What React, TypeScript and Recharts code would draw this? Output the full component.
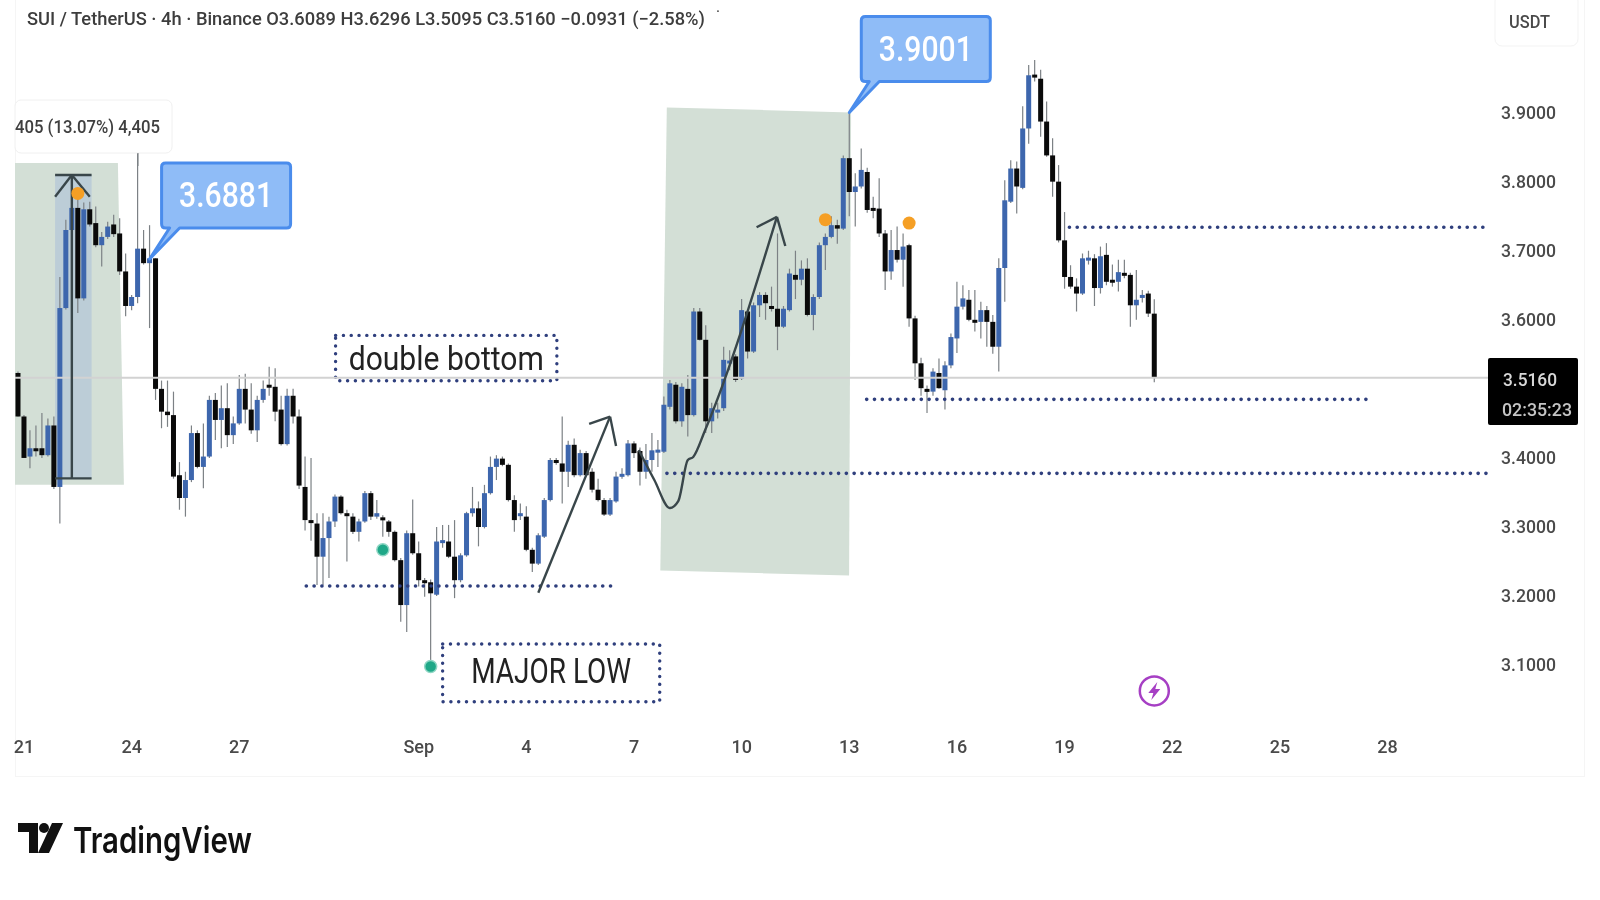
import React from "react";
import { ComposedChart, Bar, Line, XAxis, YAxis, ReferenceArea, ReferenceLine, ReferenceDot } from "recharts";

const firstBar = -1;
const opens = [
  3.523,3.46,3.402,3.414,3.414,3.404,3.447,3.358,3.617,3.73,
  3.762,3.631,3.76,3.74,3.708,3.72,3.738,3.725,3.67,3.62,
  3.633,3.703,3.682,3.689,3.50,3.467,3.462,3.375,3.342,3.368,
  3.436,3.387,3.402,3.484,3.455,3.472,3.433,3.45,3.50,3.47,
  3.44,3.484,3.506,3.503,3.47,3.42,3.49,3.46,3.358,3.31,
  3.305,3.257,3.284,3.308,3.344,3.32,3.315,3.293,3.308,3.349,
  3.315,3.314,3.308,3.293,3.252,3.187,3.291,3.262,3.223,3.22,
  3.202,3.279,3.279,3.257,3.223,3.259,3.32,3.327,3.30,3.349,
  3.387,3.399,3.39,3.339,3.318,3.315,3.267,3.247,3.286,3.339,
  3.397,3.392,3.38,3.419,3.375,3.407,3.38,3.354,3.339,3.318,
  3.337,3.375,3.375,3.421,3.41,3.38,3.397,3.411,3.409,3.474,
  3.506,3.453,3.50,3.462,3.612,3.571,3.453,3.468,3.472,3.54,
  3.547,3.515,3.612,3.554,3.621,3.636,3.62,3.616,3.59,3.614,
  3.665,3.658,3.674,3.607,3.633,3.708,3.72,3.737,3.732,3.834,
  3.785,3.793,3.814,3.762,3.761,3.725,3.67,3.701,3.687,3.708,
  3.602,3.537,3.50,3.496,3.523,3.498,3.534,3.573,3.619,3.629,
  3.60,3.597,3.614,3.597,3.561,3.675,3.771,3.819,3.791,3.877,
  3.955,3.949,3.887,3.838,3.80,3.715,3.662,3.648,3.638,3.689,
  3.689,3.646,3.694,3.658,3.655,3.668,3.665,3.621,3.634,3.638,
  3.6089,
];
const highs = [
  3.525,3.462,3.44,3.447,3.465,3.457,3.46,3.662,3.745,3.79,
  3.775,3.77,3.771,3.764,3.727,3.742,3.752,3.747,3.696,3.636,
  3.85,3.73,3.737,3.689,3.512,3.512,3.496,3.394,3.38,3.447,
  3.44,3.45,3.49,3.494,3.505,3.508,3.46,3.52,3.522,3.508,
  3.49,3.512,3.532,3.53,3.49,3.50,3.50,3.47,3.402,3.40,
  3.32,3.32,3.315,3.347,3.346,3.325,3.32,3.312,3.352,3.352,
  3.339,3.317,3.31,3.295,3.255,3.295,3.34,3.279,3.226,3.224,
  3.30,3.303,3.303,3.31,3.262,3.322,3.358,3.337,3.361,3.402,
  3.404,3.402,3.392,3.346,3.334,3.33,3.27,3.291,3.342,3.40,
  3.40,3.46,3.425,3.428,3.412,3.41,3.385,3.37,3.342,3.342,
  3.38,3.385,3.426,3.424,3.415,3.42,3.436,3.426,3.489,3.513,
  3.51,3.508,3.52,3.617,3.617,3.592,3.48,3.48,3.561,3.556,
  3.55,3.63,3.615,3.625,3.64,3.64,3.648,3.725,3.62,3.674,
  3.70,3.686,3.689,3.637,3.712,3.725,3.75,3.745,3.838,3.9001,
  3.812,3.848,3.82,3.778,3.805,3.73,3.73,3.735,3.725,3.71,
  3.606,3.545,3.505,3.53,3.544,3.54,3.58,3.655,3.65,3.643,
  3.643,3.626,3.62,3.607,3.689,3.802,3.831,3.829,3.909,3.969,
  3.976,3.962,3.916,3.863,3.824,3.756,3.679,3.66,3.696,3.70,
  3.695,3.706,3.711,3.68,3.687,3.687,3.668,3.672,3.643,3.642,
  3.6296,
];
const lows = [
  3.46,3.40,3.385,3.402,3.40,3.402,3.355,3.305,3.615,3.725,
  3.61,3.628,3.735,3.705,3.677,3.717,3.72,3.665,3.605,3.614,
  3.624,3.68,3.588,3.484,3.443,3.445,3.37,3.325,3.315,3.365,
  3.385,3.356,3.40,3.426,3.414,3.416,3.42,3.448,3.45,3.435,
  3.423,3.48,3.49,3.453,3.418,3.418,3.45,3.355,3.295,3.28,
  3.216,3.216,3.226,3.30,3.318,3.25,3.29,3.279,3.306,3.31,
  3.312,3.286,3.286,3.25,3.163,3.148,3.26,3.214,3.199,3.105,
  3.20,3.27,3.255,3.197,3.22,3.257,3.315,3.272,3.298,3.347,
  3.368,3.388,3.337,3.293,3.31,3.265,3.235,3.245,3.284,3.337,
  3.39,3.334,3.358,3.372,3.373,3.373,3.35,3.337,3.316,3.316,
  3.335,3.37,3.373,3.40,3.36,3.37,3.38,3.387,3.407,3.47,
  3.45,3.445,3.431,3.46,3.57,3.436,3.436,3.457,3.468,3.527,
  3.51,3.513,3.544,3.552,3.604,3.60,3.612,3.556,3.588,3.612,
  3.63,3.65,3.605,3.585,3.63,3.672,3.718,3.71,3.73,3.75,
  3.735,3.79,3.755,3.747,3.72,3.643,3.658,3.683,3.648,3.59,
  3.513,3.49,3.465,3.49,3.50,3.47,3.53,3.552,3.615,3.598,
  3.583,3.573,3.561,3.551,3.525,3.626,3.769,3.754,3.789,3.855,
  3.945,3.865,3.836,3.778,3.712,3.645,3.645,3.612,3.636,3.68,
  3.62,3.638,3.65,3.648,3.641,3.66,3.59,3.60,3.625,3.604,
  3.5095,
];
const closes = [
  3.46,3.40,3.414,3.413,3.404,3.447,3.358,3.617,3.73,3.762,
  3.631,3.76,3.738,3.708,3.72,3.735,3.724,3.67,3.62,3.633,
  3.703,3.682,3.689,3.50,3.467,3.462,3.373,3.342,3.368,3.436,
  3.387,3.402,3.484,3.455,3.472,3.433,3.45,3.50,3.47,3.44,
  3.484,3.50,3.505,3.467,3.42,3.49,3.46,3.36,3.31,3.307,
  3.257,3.284,3.308,3.344,3.32,3.318,3.293,3.308,3.349,3.315,
  3.32,3.312,3.293,3.252,3.187,3.291,3.262,3.223,3.221,3.204,
  3.279,3.281,3.257,3.223,3.259,3.32,3.327,3.30,3.349,3.387,
  3.399,3.39,3.339,3.31,3.32,3.267,3.247,3.288,3.339,3.397,
  3.395,3.38,3.419,3.375,3.407,3.375,3.354,3.339,3.318,3.339,
  3.373,3.377,3.421,3.407,3.38,3.397,3.411,3.412,3.477,3.508,
  3.453,3.503,3.462,3.612,3.571,3.453,3.472,3.47,3.542,3.541,
  3.513,3.614,3.554,3.621,3.636,3.624,3.618,3.59,3.616,3.667,
  3.658,3.674,3.607,3.633,3.708,3.72,3.737,3.732,3.834,3.785,
  3.793,3.817,3.759,3.76,3.725,3.67,3.701,3.687,3.706,3.602,
  3.537,3.501,3.497,3.525,3.501,3.534,3.575,3.619,3.631,3.60,
  3.598,3.614,3.597,3.561,3.675,3.773,3.819,3.793,3.877,3.954,
  3.954,3.887,3.838,3.80,3.715,3.662,3.648,3.638,3.689,3.69,
  3.646,3.692,3.655,3.657,3.669,3.667,3.621,3.629,3.636,3.609,
  3.516,
];

const xTickBars = [0, 18, 36, 66, 84, 102, 120, 138, 156, 174, 192, 210, 228];
const xTickLabels = ["21", "24", "27", "Sep", "4", "7", "10", "13", "16", "19", "22", "25", "28"];
const yTicks = [3.1, 3.2, 3.3, 3.4, 3.6, 3.7, 3.8, 3.9];

const lastPrice = 3.516;
const dottedLevels = [
  { from: 47.2, to: 99.1, price: 3.2146 },
  { from: 140.9, to: 224.6, price: 3.4848 },
  { from: 174.8, to: 244.5, price: 3.734 },
  { from: 107.5, to: 245, price: 3.3777 },
];
const orangeDots = [
  { bar: 9, price: 3.783 },
  { bar: 134, price: 3.745 },
  { bar: 148, price: 3.74 },
];
const tealDots = [
  { bar: 60, price: 3.267 },
  { bar: 68, price: 3.098 },
];
const callouts = [
  { bar: 21, price: 3.6881, text: "3.6881" },
  { bar: 138, price: 3.9001, text: "3.9001" },
];
const curveBars = [102.8, 105.4, 108, 109.4, 111, 111.9, 113.9, 125.9];
const curvePrices = [3.4115, 3.368, 3.3275, 3.3375, 3.397, 3.4014, 3.4405, 3.749];
const strokes = [
  // arrow 1
  [86, 3.2049, 98, 3.4598],
  [94.5, 3.4492, 98, 3.4598],
  [99, 3.4173, 98, 3.4598],
  // arrow 2 head
  [122.5, 3.734, 125.9, 3.749],
  [127.3, 3.7068, 125.9, 3.749],
  // measure tool
  [5.2, 3.8096, 11.3, 3.8096],
  [5.2, 3.3704, 11.3, 3.3704],
  [8, 3.8096, 8, 3.3704],
  [5.2, 3.778, 8, 3.8096],
  [11, 3.778, 8, 3.8096],
];

const candles = opens.map((open, i) => ({
  bar: firstBar + i,
  open,
  high: highs[i],
  low: lows[i],
  close: closes[i],
}));
const curve = curveBars.map((bar, i) => ({ bar, curve: curvePrices[i] }));

const BLUE = "#3d66ad";
const INK = "#0a0a0a";
const NAVY = "#2f3f7d";
const LINE = "#39464a";

function Candle(props: any) {
  const { x, y, width, height, payload } = props;
  const { open, high, low, close } = payload;
  const k = height / (high - low || 1);
  const cx = x + width / 2;
  const top = y + (high - Math.max(open, close)) * k;
  const bottom = y + (high - Math.min(open, close)) * k;
  const up = close >= open;
  return (
    <g>
      <line x1={cx} x2={cx} y1={y} y2={y + height} stroke="#7c8185" strokeWidth={1.2} />
      <rect x={cx - 2.5} width={5} y={top} height={Math.max(bottom - top, 3)} fill={up ? BLUE : INK} />
    </g>
  );
}

function SkewBox(skew: number[], fill: string) {
  return (p: any) => {
    const { x, y, width, height } = p;
    const pts = [
      [x + skew[0], y],
      [x + width + skew[1], y + skew[2]],
      [x + width + skew[3], y + height + skew[2]],
      [x + skew[4], y + height],
    ];
    return <polygon points={pts.map((q) => q.join(",")).join(" ")} fill={fill} />;
  };
}

function NoteBox(text: string, size: number, len: number, lift: number) {
  return (p: any) => {
    const { x, y, width, height } = p;
    return (
      <g>
        <rect x={x} y={y} width={width} height={height} fill="none" stroke={NAVY} strokeWidth={3.4} strokeDasharray="0.1 7.7" strokeLinecap="round" />
        <text x={x + width / 2} y={y + height / 2 + size * 0.34 - lift} textAnchor="middle" fontFamily="Roboto, sans-serif" fontSize={size} fill="#222" textLength={len} lengthAdjust="spacingAndGlyphs">
          {text}
        </text>
      </g>
    );
  };
}

function Callout(text: string) {
  return (p: any) => {
    const { cx, cy } = p;
    const l = cx + 12, r = cx + 141, t = cy - 96, b = cy - 31;
    const d = `M${l + 4} ${t} H${r - 4} Q${r} ${t} ${r} ${t + 4} V${b - 4} Q${r} ${b} ${r - 4} ${b} H${l + 18} L${cx} ${cy} L${l + 8} ${b} H${l + 4} Q${l} ${b} ${l} ${b - 4} V${t + 4} Q${l} ${t} ${l + 4} ${t} Z`;
    return (
      <g>
        <path d={d} fill="#8fbcf7" stroke="#4a8cec" strokeWidth={3} strokeLinejoin="round" />
        <text x={(l + r) / 2} y={(t + b) / 2 + 12} textAnchor="middle" fontFamily="Roboto, sans-serif" fontWeight={500} fontSize={35} fill="#fff" textLength={94} lengthAdjust="spacingAndGlyphs">
          {text}
        </text>
      </g>
    );
  };
}

function Bolt(p: any) {
  const { cx, cy } = p;
  return (
    <g>
      <circle cx={cx} cy={cy} r={14.5} fill="#fff" stroke="#a63fc4" strokeWidth={2.5} />
      <path d={`M${cx + 3} ${cy - 9} L${cx - 6} ${cy + 2} H${cx - 1} L${cx - 3} ${cy + 9} L${cx + 6} ${cy - 2} H${cx + 1} Z`} fill="#a63fc4" />
    </g>
  );
}

function TickY(p: any) {
  const { x, y, payload } = p;
  return (
    <text x={x + 2} y={y + 6} fontFamily="Roboto, sans-serif" fontWeight={500} fontSize={18} fill="#4a4a4a" textLength={55} lengthAdjust="spacingAndGlyphs">
      {payload.value.toFixed(4)}
    </text>
  );
}

function TickX(p: any) {
  const { x, payload } = p;
  return (
    <text x={x} y={753} textAnchor="middle" fontFamily="Roboto, sans-serif" fontWeight={500} fontSize={18} fill="#4a4a4a">
      {xTickLabels[xTickBars.indexOf(payload.value)]}
    </text>
  );
}

export default function App() {
  return (
    <div style={{ position: "absolute", left: 0, top: 0, width: 1600, height: 900, background: "#fff", overflow: "hidden", filter: "blur(0.7px)" }}>
      <div style={{ position: "absolute", left: 15, top: -2, width: 1568, height: 777, border: "1px solid #f5f5f5" }} />
      <div style={{ position: "absolute", left: 0, top: 0 }}>
        <ComposedChart width={1583} height={775} data={candles} margin={{ top: 0, right: 0, bottom: 0, left: 15 }}>
          <XAxis type="number" dataKey="bar" domain={[-1.505, 245.3]} ticks={xTickBars} axisLine={false} tickLine={false} height={47} interval={0} tick={TickX} allowDataOverflow />
          <YAxis orientation="right" type="number" domain={[3.009, 4.063]} ticks={yTicks} axisLine={false} tickLine={false} width={92} interval={0} tick={TickY} allowDataOverflow />
          <ReferenceArea x1={-1.5} x2={15.7} y1={3.827} y2={3.361} ifOverflow="visible" shape={SkewBox([0, 0, 0, 6, 0], "#d3dfd6")} />
          <ReferenceArea x1={106.4} x2={138.3} y1={3.9075} y2={3.237} ifOverflow="visible" shape={SkewBox([6.5, 0, 5, -2, 0], "#d3dfd6")} />
          <ReferenceArea x1={5.2} x2={11.3} y1={3.8096} y2={3.3704} ifOverflow="visible" shape={SkewBox([0, 0, 0, 0, 0], "#bccdd7")} />
          <ReferenceLine y={lastPrice} stroke="#d2d2d2" strokeWidth={2} />
          <Bar dataKey={(d: any) => [d.low, d.high]} barSize={6} shape={Candle} isAnimationActive={false} />
          {dottedLevels.map((d, i) => (
            <ReferenceLine key={i} segment={[{ x: d.from, y: d.price }, { x: d.to, y: d.price }]} ifOverflow="visible" stroke={NAVY} strokeWidth={3.6} strokeDasharray="0.1 7.7" strokeLinecap="round" />
          ))}
          {strokes.map((s, i) => (
            <ReferenceLine key={i} segment={[{ x: s[0], y: s[1] }, { x: s[2], y: s[3] }]} ifOverflow="visible" stroke={LINE} strokeWidth={2.4} />
          ))}
          <Line data={curve} dataKey="curve" type="monotone" stroke={LINE} strokeWidth={2.4} dot={false} isAnimationActive={false} />
          <ReferenceArea x1={52.1} x2={89.1} y1={3.5774} y2={3.5118} ifOverflow="visible" shape={NoteBox("double bottom", 34, 195, 0)} />
          <ReferenceArea x1={70} x2={106.3} y1={3.1306} y2={3.047} ifOverflow="visible" shape={NoteBox("MAJOR LOW", 35, 160, 2)} />
          {orangeDots.map((d, i) => (
            <ReferenceDot key={i} x={d.bar} y={d.price} r={6.5} fill="#f59f25" stroke="none" ifOverflow="visible" />
          ))}
          {tealDots.map((d, i) => (
            <ReferenceDot key={i} x={d.bar} y={d.price} r={6} fill="#1fa888" stroke="#8fd6c4" strokeWidth={1.5} ifOverflow="visible" />
          ))}
          {callouts.map((c, i) => (
            <ReferenceDot key={i} x={c.bar} y={c.price} r={4} ifOverflow="visible" shape={Callout(c.text)} />
          ))}
          <ReferenceDot x={189} y={3.0627} r={15} ifOverflow="visible" shape={Bolt} />
        </ComposedChart>
      </div>
      <svg width={1600} height={900} style={{ position: "absolute", left: 0, top: 0, pointerEvents: "none" }}>
        <text x={27} y={25} fontFamily="Roboto, sans-serif" fontWeight={500} fontSize={18} fill="#3d3d3d" textLength={678} lengthAdjust="spacingAndGlyphs">
          SUI / TetherUS · 4h · Binance  O3.6089 H3.6296 L3.5095 C3.5160 −0.0931 (−2.58%)
        </text>
        <text x={716} y={22} fontFamily="Roboto, sans-serif" fontSize={16} fill="#3d3d3d">˙</text>
        <rect x={15} y={100} width={157} height={53} rx={6} fill="#fff" stroke="#f0f0f0" />
        <text x={160} y={133} textAnchor="end" fontFamily="Roboto, sans-serif" fontWeight={500} fontSize={18} fill="#3f3f3f" textLength={145} lengthAdjust="spacingAndGlyphs">
          405 (13.07%) 4,405
        </text>
        <line x1={138} x2={138} y1={153} y2={166} stroke="#7c8185" />
        <rect x={1495} y={-6} width={83} height={52} rx={7} fill="#fff" stroke="#f3f3f3" />
        <text x={1509} y={28} fontFamily="Roboto, sans-serif" fontWeight={500} fontSize={19} fill="#4a4a4a" textLength={41} lengthAdjust="spacingAndGlyphs">USDT</text>
        <rect x={1488} y={358} width={90} height={67} rx={2} fill="#000" />
        <text x={1503} y={386} fontFamily="Roboto, sans-serif" fontWeight={500} fontSize={19} fill="#d8d8d8" textLength={54} lengthAdjust="spacingAndGlyphs">3.5160</text>
        <text x={1502} y={416} fontFamily="Roboto, sans-serif" fontWeight={500} fontSize={19} fill="#c4c4c4" textLength={70} lengthAdjust="spacingAndGlyphs">02:35:23</text>
        <g fill="#111">
          <path d="M18 823 H38 V853 H29 V832 H18 Z" />
          <circle cx={44} cy={828} r={5} />
          <path d="M52 823 H63 L49 853 H38 Z" />
        </g>
        <text x={73} y={853} fontFamily="Inter, Roboto, sans-serif" fontWeight={600} fontSize={36} fill="#111" textLength={179} lengthAdjust="spacingAndGlyphs">TradingView</text>
      </svg>
    </div>
  );
}
